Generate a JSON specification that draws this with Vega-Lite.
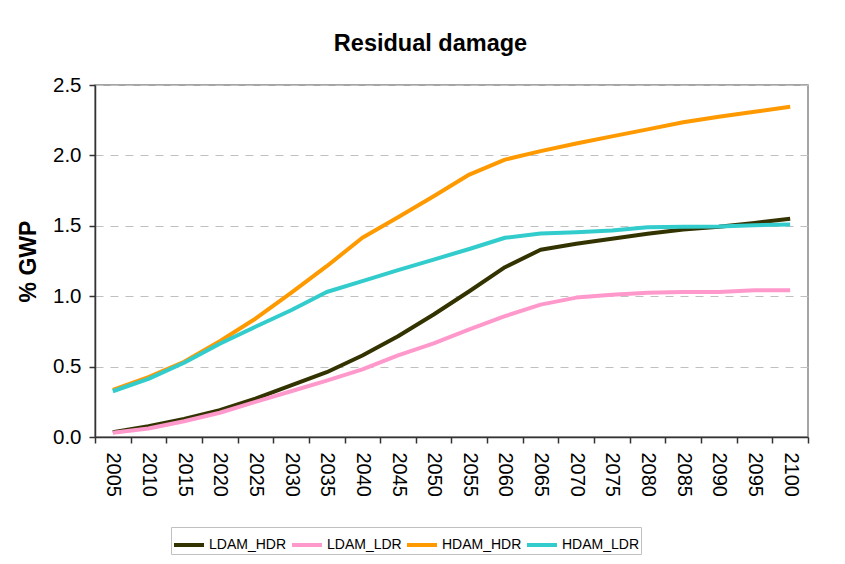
{
  "$schema": "https://vega.github.io/schema/vega-lite/v6.json",
  "width": 713,
  "height": 352,
  "autosize": {"type": "none"},
  "padding": {"left": 95, "top": 85, "right": 37, "bottom": 127},
  "background": "white",
  "title": {
    "text": "Residual damage",
    "font": "Liberation Sans",
    "fontSize": 23.5,
    "fontWeight": "bold",
    "color": "black",
    "anchor": "middle",
    "dx": -21,
    "baseline": "alphabetic",
    "offset": 1
  },
  "datasets": {
    "d": [
      {"year": "2005", "series": "LDAM_HDR", "value": 0.034},
      {"year": "2010", "series": "LDAM_HDR", "value": 0.077},
      {"year": "2015", "series": "LDAM_HDR", "value": 0.129},
      {"year": "2020", "series": "LDAM_HDR", "value": 0.19},
      {"year": "2025", "series": "LDAM_HDR", "value": 0.273},
      {"year": "2030", "series": "LDAM_HDR", "value": 0.366},
      {"year": "2035", "series": "LDAM_HDR", "value": 0.46},
      {"year": "2040", "series": "LDAM_HDR", "value": 0.579},
      {"year": "2045", "series": "LDAM_HDR", "value": 0.715},
      {"year": "2050", "series": "LDAM_HDR", "value": 0.87},
      {"year": "2055", "series": "LDAM_HDR", "value": 1.035},
      {"year": "2060", "series": "LDAM_HDR", "value": 1.206},
      {"year": "2065", "series": "LDAM_HDR", "value": 1.33},
      {"year": "2070", "series": "LDAM_HDR", "value": 1.372},
      {"year": "2075", "series": "LDAM_HDR", "value": 1.408},
      {"year": "2080", "series": "LDAM_HDR", "value": 1.443},
      {"year": "2085", "series": "LDAM_HDR", "value": 1.474},
      {"year": "2090", "series": "LDAM_HDR", "value": 1.493},
      {"year": "2095", "series": "LDAM_HDR", "value": 1.52},
      {"year": "2100", "series": "LDAM_HDR", "value": 1.55},
      {"year": "2005", "series": "LDAM_LDR", "value": 0.03},
      {"year": "2010", "series": "LDAM_LDR", "value": 0.06},
      {"year": "2015", "series": "LDAM_LDR", "value": 0.112},
      {"year": "2020", "series": "LDAM_LDR", "value": 0.172},
      {"year": "2025", "series": "LDAM_LDR", "value": 0.25},
      {"year": "2030", "series": "LDAM_LDR", "value": 0.325},
      {"year": "2035", "series": "LDAM_LDR", "value": 0.40},
      {"year": "2040", "series": "LDAM_LDR", "value": 0.48},
      {"year": "2045", "series": "LDAM_LDR", "value": 0.58},
      {"year": "2050", "series": "LDAM_LDR", "value": 0.665},
      {"year": "2055", "series": "LDAM_LDR", "value": 0.765},
      {"year": "2060", "series": "LDAM_LDR", "value": 0.858},
      {"year": "2065", "series": "LDAM_LDR", "value": 0.94},
      {"year": "2070", "series": "LDAM_LDR", "value": 0.99},
      {"year": "2075", "series": "LDAM_LDR", "value": 1.01},
      {"year": "2080", "series": "LDAM_LDR", "value": 1.024},
      {"year": "2085", "series": "LDAM_LDR", "value": 1.03},
      {"year": "2090", "series": "LDAM_LDR", "value": 1.03},
      {"year": "2095", "series": "LDAM_LDR", "value": 1.043},
      {"year": "2100", "series": "LDAM_LDR", "value": 1.043},
      {"year": "2005", "series": "HDAM_HDR", "value": 0.335},
      {"year": "2010", "series": "HDAM_HDR", "value": 0.425},
      {"year": "2015", "series": "HDAM_HDR", "value": 0.534},
      {"year": "2020", "series": "HDAM_HDR", "value": 0.68},
      {"year": "2025", "series": "HDAM_HDR", "value": 0.84},
      {"year": "2030", "series": "HDAM_HDR", "value": 1.024},
      {"year": "2035", "series": "HDAM_HDR", "value": 1.213},
      {"year": "2040", "series": "HDAM_HDR", "value": 1.415},
      {"year": "2045", "series": "HDAM_HDR", "value": 1.56},
      {"year": "2050", "series": "HDAM_HDR", "value": 1.71},
      {"year": "2055", "series": "HDAM_HDR", "value": 1.864},
      {"year": "2060", "series": "HDAM_HDR", "value": 1.97},
      {"year": "2065", "series": "HDAM_HDR", "value": 2.03},
      {"year": "2070", "series": "HDAM_HDR", "value": 2.085},
      {"year": "2075", "series": "HDAM_HDR", "value": 2.135},
      {"year": "2080", "series": "HDAM_HDR", "value": 2.185},
      {"year": "2085", "series": "HDAM_HDR", "value": 2.235},
      {"year": "2090", "series": "HDAM_HDR", "value": 2.275},
      {"year": "2095", "series": "HDAM_HDR", "value": 2.31},
      {"year": "2100", "series": "HDAM_HDR", "value": 2.345},
      {"year": "2005", "series": "HDAM_LDR", "value": 0.325},
      {"year": "2010", "series": "HDAM_LDR", "value": 0.413},
      {"year": "2015", "series": "HDAM_LDR", "value": 0.527},
      {"year": "2020", "series": "HDAM_LDR", "value": 0.662},
      {"year": "2025", "series": "HDAM_LDR", "value": 0.783},
      {"year": "2030", "series": "HDAM_LDR", "value": 0.90},
      {"year": "2035", "series": "HDAM_LDR", "value": 1.03},
      {"year": "2040", "series": "HDAM_LDR", "value": 1.107},
      {"year": "2045", "series": "HDAM_LDR", "value": 1.185},
      {"year": "2050", "series": "HDAM_LDR", "value": 1.26},
      {"year": "2055", "series": "HDAM_LDR", "value": 1.335},
      {"year": "2060", "series": "HDAM_LDR", "value": 1.415},
      {"year": "2065", "series": "HDAM_LDR", "value": 1.445},
      {"year": "2070", "series": "HDAM_LDR", "value": 1.455},
      {"year": "2075", "series": "HDAM_LDR", "value": 1.467},
      {"year": "2080", "series": "HDAM_LDR", "value": 1.49},
      {"year": "2085", "series": "HDAM_LDR", "value": 1.493},
      {"year": "2090", "series": "HDAM_LDR", "value": 1.495},
      {"year": "2095", "series": "HDAM_LDR", "value": 1.504},
      {"year": "2100", "series": "HDAM_LDR", "value": 1.51}
    ]
  },
  "data": {"name": "d"},
  "mark": {"type": "line", "strokeWidth": 4, "strokeCap": "butt", "strokeJoin": "round"},
  "encoding": {
    "x": {
      "field": "year",
      "type": "ordinal",
      "bandPosition": 0.5,
      "scale": {"type": "band", "paddingInner": 0, "paddingOuter": 0},
      "axis": {
        "title": null,
        "tickBand": "extent",
        "labelAngle": 90,
        "labelAlign": "left",
        "labelBaseline": "middle",
        "labelFontSize": 20,
        "labelPadding": 9,
        "tickSize": 6,
        "grid": false
      }
    },
    "y": {
      "field": "value",
      "type": "quantitative",
      "scale": {"domain": [0, 2.5], "nice": false},
      "axis": {
        "title": "% GWP",
        "values": [0, 0.5, 1, 1.5, 2, 2.5],
        "format": ".1f",
        "labelFontSize": 20.5,
        "labelPadding": 8,
        "tickSize": 6,
        "titleFontSize": 23,
        "titleFontWeight": "bold",
        "titlePadding": 12,
        "grid": true,
        "gridColor": "#c0c0c0",
        "gridDash": [8, 7],
        "gridWidth": 1
      }
    },
    "color": {
      "field": "series",
      "type": "nominal",
      "sort": ["LDAM_HDR", "LDAM_LDR", "HDAM_HDR", "HDAM_LDR"],
      "scale": {
        "domain": ["LDAM_HDR", "LDAM_LDR", "HDAM_HDR", "HDAM_LDR"],
        "range": ["#333300", "#FF99CC", "#FF9900", "#33CCCC"]
      },
      "legend": {
        "title": null,
        "orient": "none",
        "legendX": 76,
        "legendY": 442,
        "direction": "horizontal",
        "symbolType": "stroke",
        "symbolSize": 900,
        "symbolStrokeWidth": 4,
        "labelFont": "Liberation Sans",
        "labelFontSize": 14,
        "labelOffset": 3,
        "columnPadding": -3,
        "padding": 1,
        "strokeColor": "#c0c0c0",
        "fillColor": "white"
      }
    }
  },
  "config": {
    "font": "Liberation Sans",
    "view": {"stroke": "#888888", "strokeWidth": 1.5},
    "axis": {
      "domainColor": "#333333",
      "domainWidth": 1.5,
      "tickColor": "#333333",
      "tickWidth": 1.5,
      "labelColor": "black",
      "titleColor": "black",
      "labelFont": "Liberation Sans",
      "titleFont": "Liberation Sans"
    },
    "legend": {"labelColor": "black"}
  }
}
